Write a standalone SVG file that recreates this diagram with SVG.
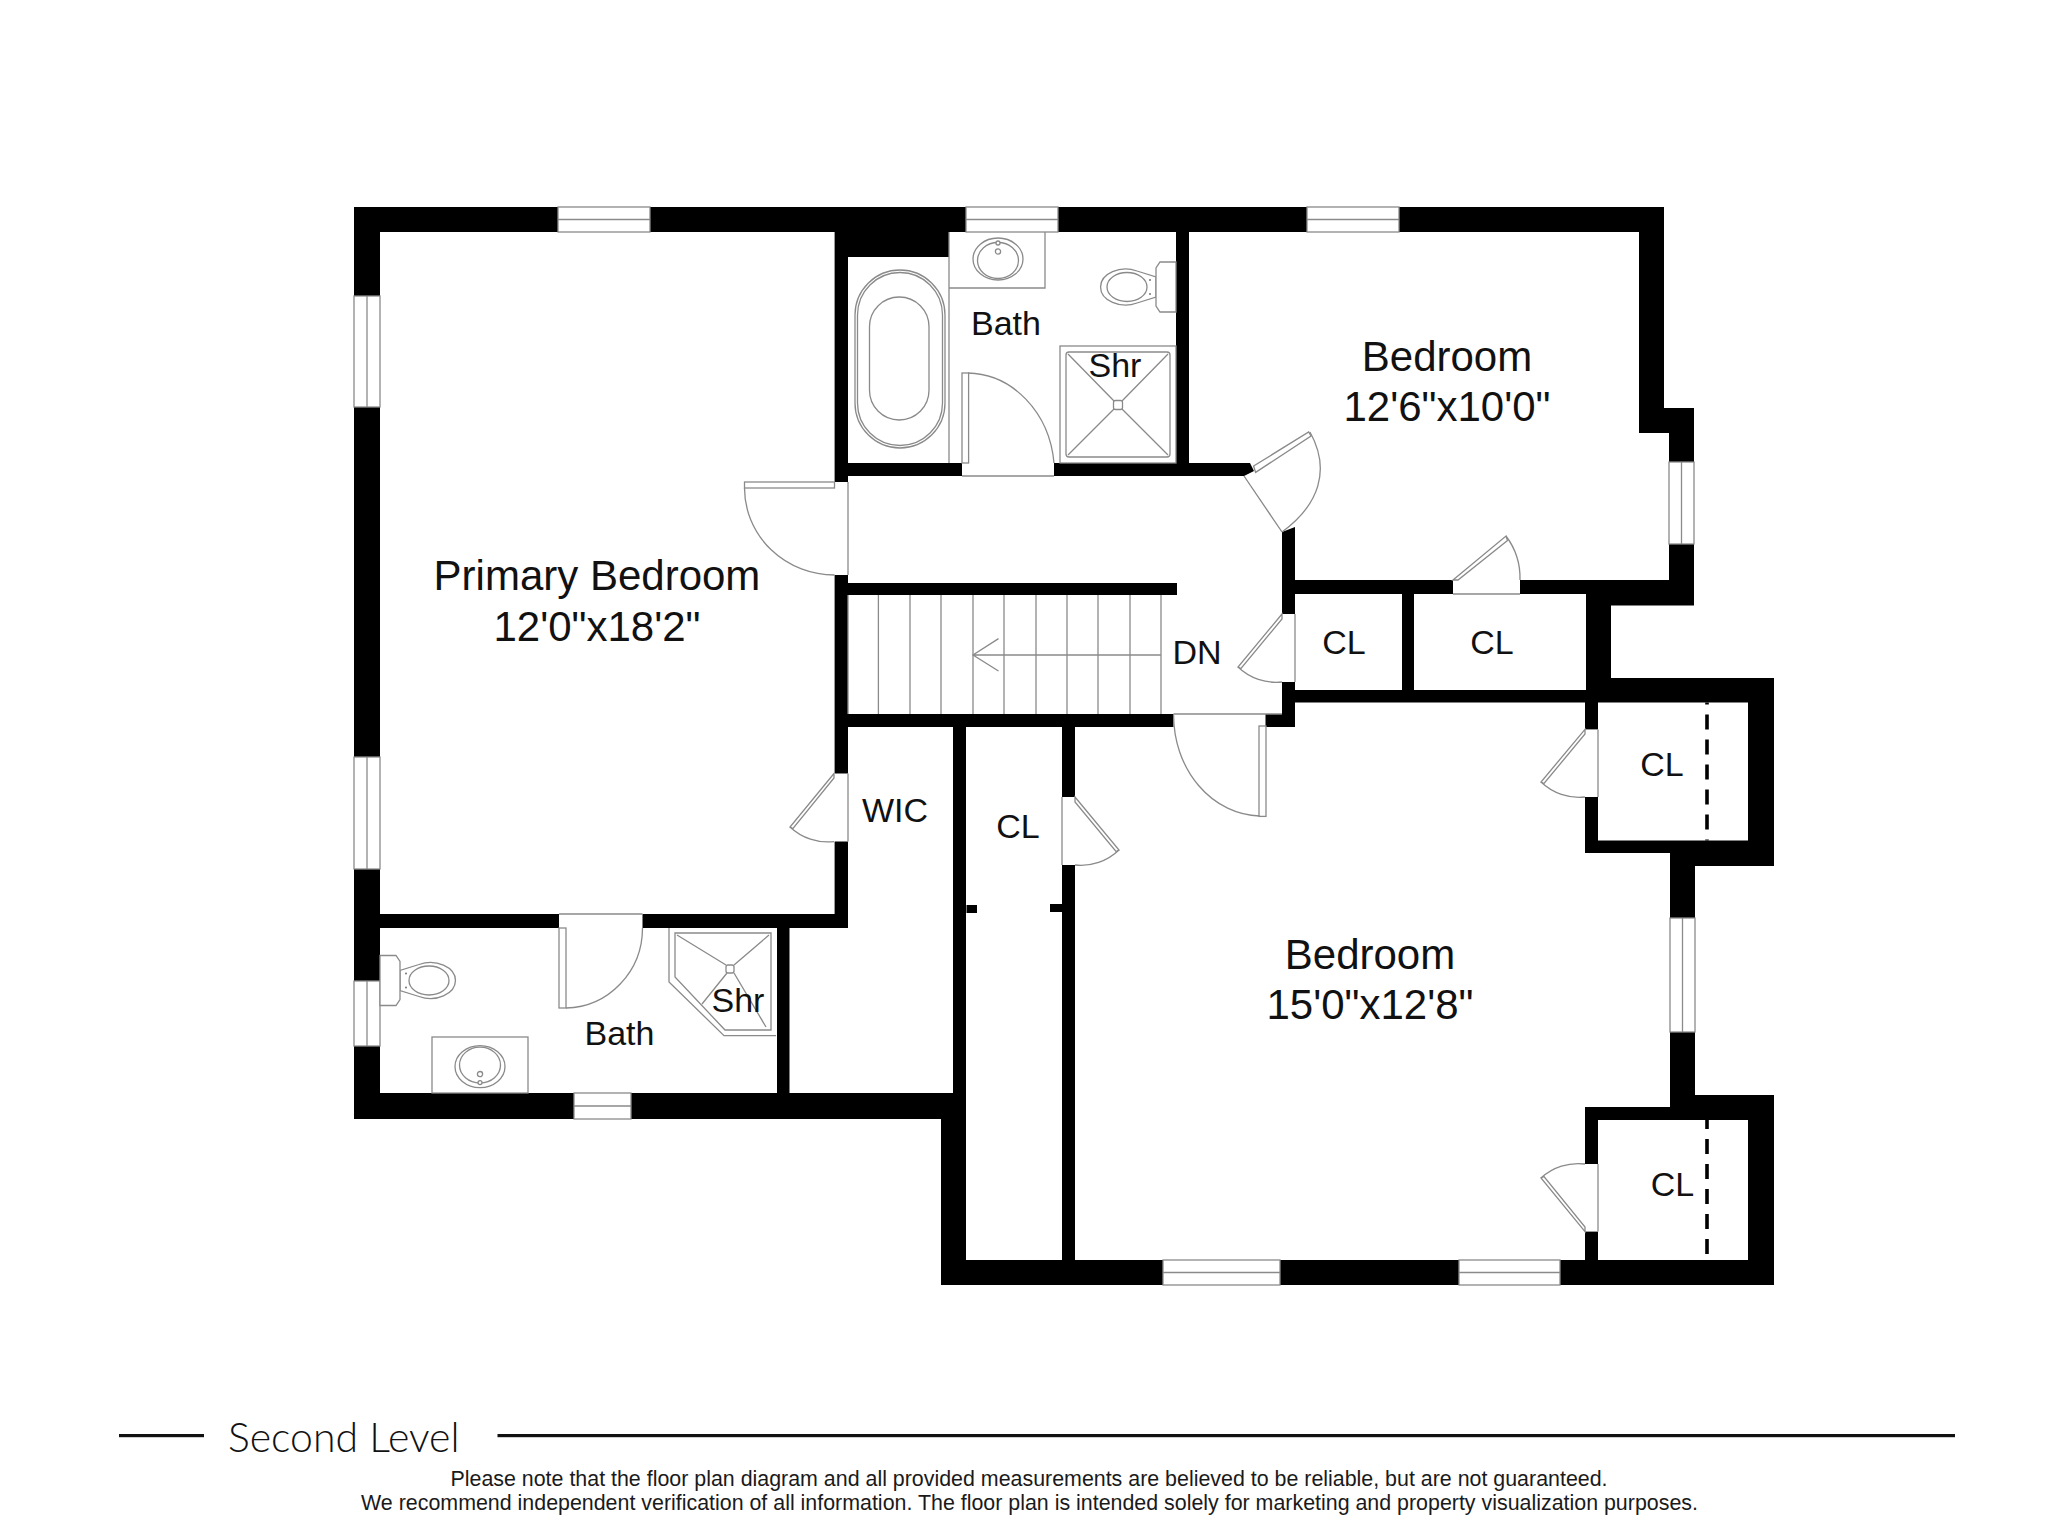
<svg xmlns="http://www.w3.org/2000/svg" width="2048" height="1536" viewBox="0 0 2048 1536">
<style>
.w{fill:#000}
.r{fill:#fff}
.l{fill:none;stroke:#8a8a8a;stroke-width:1.3}
.f{fill:#fff;stroke:#8a8a8a;stroke-width:1.3}
.d{fill:none;stroke:#000;stroke-width:3.6;stroke-dasharray:15 10}
.t{font-family:"Liberation Sans",Arial,sans-serif;fill:#111;text-anchor:middle}
.b{font-size:42px}
.s{font-size:34px}
.n{font-size:21.4px;fill:#1a1a1a}
</style>
<defs>
<g id="toilet">
<path class="f" d="M-39 -16 L-20 -10 V10 L-39 16 A25 18 0 1 1 -39 -16Z"/>
<ellipse class="f" cx="-49" cy="0" rx="20" ry="14.5"/>
<path class="f" d="M0 -25H-16L-20 -19V19L-16 25H0Z"/>
<circle cx="-26" cy="-7" r="0.9" fill="#666"/>
<circle cx="-26" cy="7" r="0.9" fill="#666"/>
</g>
<g id="sink">
<ellipse class="f" cx="0" cy="0" rx="25" ry="21"/>
<ellipse class="f" cx="0" cy="1.5" rx="20.5" ry="18"/>
<circle class="f" cx="0" cy="-16" r="2"/>
<circle class="f" cx="0" cy="-7.5" r="2.6"/>
</g>
</defs>
<rect width="2048" height="1536" fill="#fff"/>
<g id="walls">
<path class="w" d="M354 207H1664V408H1694V605.6H1611V678H1774V866H1695V1095H1774V1285H941V1119H354Z"/>
</g>
<g id="rooms">
<rect id="primary-bedroom" class="r" x="380" y="232" width="454.6" height="682"/>
<path id="upper-bath" class="r" d="M848 257H949V232H1176V463H848Z"/>
<path id="bedroom-north" class="r" d="M1189 232H1639V433H1669V580H1295V527L1282 532L1244 476L1254 471L1250 463H1189Z"/>
<path id="hall" class="r" d="M848 476H1244L1282 532V714H848Z"/>
<rect class="w" x="848" y="583" width="329" height="12"/>
<rect id="closet-a" class="r" x="1295" y="594" width="107" height="96"/>
<rect id="closet-b" class="r" x="1414" y="594" width="172" height="96"/>
<path id="bedroom-south" class="r" d="M1075 727H1295V702.5H1585V853H1670V1107H1585V1260H1075Z"/>
<rect class="r" x="1173.5" y="714" width="92" height="13"/>
<rect id="closet-c" class="r" x="1598" y="702.5" width="150" height="138"/>
<rect id="closet-d" class="r" x="1598" y="1120" width="150" height="140"/>
<rect id="long-closet" class="r" x="966" y="727" width="96" height="533"/>
<path id="wic" class="r" d="M848 727H953V1093H789.5V928H848Z"/>
<rect id="lower-bath" class="r" x="380" y="928" width="397" height="165"/>
<rect class="w" x="966.5" y="905" width="10.5" height="8"/>
<rect class="w" x="1050" y="904" width="12" height="8"/>
</g>
<g id="windows">
<g><rect class="f" x="558" y="207" width="92" height="25"/><path class="l" d="M558 219.5H650"/></g>
<g><rect class="f" x="966" y="207" width="92" height="25"/><path class="l" d="M966 219.5H1058"/></g>
<g><rect class="f" x="1307" y="207" width="92" height="25"/><path class="l" d="M1307 219.5H1399"/></g>
<g><rect class="f" x="354" y="296" width="26" height="111"/><path class="l" d="M367 296V407"/></g>
<g><rect class="f" x="354" y="757" width="26" height="112"/><path class="l" d="M367 757V869"/></g>
<g><rect class="f" x="354" y="981" width="26" height="65"/><path class="l" d="M367 981V1046"/></g>
<g><rect class="f" x="574" y="1093" width="57" height="26"/><path class="l" d="M574 1106H631"/></g>
<g><rect class="f" x="1669" y="462" width="25" height="82"/><path class="l" d="M1681.5 462V544"/></g>
<g><rect class="f" x="1670" y="918" width="25" height="114"/><path class="l" d="M1682.5 918V1032"/></g>
<g><rect class="f" x="1163" y="1260" width="117" height="25"/><path class="l" d="M1163 1272.5H1280"/></g>
<g><rect class="f" x="1459" y="1260" width="101" height="25"/><path class="l" d="M1459 1272.5H1560"/></g>
</g>
<g id="doors">
<g id="door-primary"><rect class="r" x="834" y="482" width="14" height="93"/><path class="l" d="M848 482V575"/><rect class="f" x="744.5" y="482" width="90" height="6"/><path class="l" d="M744.5 488A90 87 0 0 0 834.6 575"/></g>
<g id="door-bath-upper"><rect class="r" x="962" y="463" width="92" height="13"/><path class="l" d="M962 476H1054"/><rect class="f" x="962" y="373" width="6.6" height="90"/><path class="l" d="M968 373A88 100 0 0 1 1054 463"/></g>
<g id="door-bedroom-north"><path class="l" d="M1244 476L1282 532"/><path class="f" d="M1253.6 466L1308.7 432L1311 436L1255.6 472.4Z"/><path class="l" d="M1310 432C1331 470 1319 505 1282 532"/></g>
<g id="door-closet-b"><rect class="r" x="1453" y="580" width="67" height="14"/><path class="l" d="M1453 594H1520"/><path class="f" d="M1453 580L1506 536L1507.5 540.5L1458 580Z"/><path class="l" d="M1506 536A70 70 0 0 1 1520 580"/></g>
<g id="door-closet-a"><rect class="r" x="1282" y="614" width="13" height="68"/><path class="l" d="M1295 614V682"/><path class="f" d="M1282 614L1238 667L1241 668.5L1282 619Z"/><path class="l" d="M1238 667A55 55 0 0 0 1282 682"/></g>
<g id="door-bedroom-south"><path class="l" d="M1173.5 714H1282"/><rect class="f" x="1259" y="726" width="7" height="90.4"/><path class="l" d="M1173.6 715A88 101 0 0 0 1259.4 816"/></g>
<g id="door-closet-c"><rect class="r" x="1585" y="729.4" width="13" height="67.6"/><path class="l" d="M1598 729.4V797"/><path class="f" d="M1585 729.4L1541 782L1544 783.5L1585 734Z"/><path class="l" d="M1541 782A55 55 0 0 0 1585 797"/></g>
<g id="door-closet-d"><rect class="r" x="1585" y="1164" width="13" height="67.6"/><path class="l" d="M1598 1164V1231.6"/><path class="f" d="M1585 1231.6L1541 1178L1544 1176.5L1585 1227Z"/><path class="l" d="M1541 1178A55 55 0 0 1 1585 1164"/></g>
<g id="door-long-closet"><rect class="r" x="1062" y="797" width="13" height="68"/><path class="l" d="M1062 797V865"/><path class="f" d="M1075 797L1119 850L1116 851.5L1075 802Z"/><path class="l" d="M1119 850A55 55 0 0 1 1075 865"/></g>
<g id="door-wic"><rect class="r" x="834" y="773.5" width="14" height="68"/><path class="l" d="M848 773.5V841.6"/><path class="f" d="M834 773.5L790 827L793 828.5L834 778Z"/><path class="l" d="M790 827A55 55 0 0 0 834 841.6"/></g>
<g id="door-bath-lower"><rect class="r" x="559" y="914" width="83.5" height="14"/><path class="l" d="M559 914H642.5"/><rect class="f" x="559" y="928" width="7" height="80"/><path class="l" d="M566 1008A78 80 0 0 0 642.5 928"/></g>
</g>
<g id="fixtures">
<g id="stairs">
<path class="l" d="M848 595V714M878.4 595V714M910 595V714M941 595V714M973 595V714M1004 595V714M1036 595V714M1067 595V714M1098 595V714M1130 595V714M1161 595V714"/>
<path class="l" d="M1161 655H973M998.5 638.6L973 655L998.5 671"/>
</g>
<g id="tub">
<rect class="l" x="855" y="270" width="90" height="178" rx="45"/>
<rect class="l" x="857.5" y="272.5" width="85" height="173" rx="42.5"/>
<rect class="l" x="869.5" y="297" width="59.5" height="123" rx="29.7"/>
<path class="l" d="M949 232V463M949 288H1045V232"/>
</g>
<use href="#sink" x="998" y="259"/>
<use href="#toilet" transform="translate(1176 287)"/>
<g id="shower-upper">
<rect class="l" x="1060" y="346" width="116" height="117"/>
<rect class="l" x="1066" y="352" width="104" height="105" rx="3"/>
<path class="l" d="M1068 354L1114 401M1168 354L1122 401M1068 455L1114 409M1168 455L1122 409"/>
<rect class="l" x="1113.5" y="400.5" width="9" height="9" rx="2"/>
</g>
<g id="shower-lower">
<path class="l" d="M669 928V982L724 1035.6H776"/>
<path class="l" d="M675 933H771V1030H725L675 977Z"/>
<path class="l" d="M677 935L726 965M769 935L734 965M702 1004L727 973M766 1027L734 973"/>
<rect class="l" x="726" y="965" width="8" height="8" rx="2"/>
</g>
<use href="#toilet" transform="translate(380 980.5) scale(-1 1)"/>
<rect class="l" x="432" y="1037" width="96" height="56"/>
<use href="#sink" transform="translate(480 1066.6) scale(1 -1)"/>
<path class="d" d="M1707 702.5V840.5" stroke-dashoffset="13"/>
<path class="d" d="M1707 1120V1260" stroke-dashoffset="6"/>
</g>
<g id="labels">
<g id="label-primary"><text class="t b" x="597" y="590">Primary Bedroom</text><text class="t b" x="597" y="640.5">12'0"x18'2"</text></g>
<g id="label-north"><text class="t b" x="1447" y="371">Bedroom</text><text class="t b" x="1447" y="421">12'6"x10'0"</text></g>
<g id="label-south"><text class="t b" x="1370" y="968.5">Bedroom</text><text class="t b" x="1370" y="1019">15'0"x12'8"</text></g>
<text class="t s" x="1006" y="335">Bath</text>
<text class="t s" x="1115" y="377">Shr</text>
<text class="t s" x="1197" y="664">DN</text>
<text class="t s" x="1344" y="654">CL</text>
<text class="t s" x="1492" y="654">CL</text>
<text class="t s" x="1662" y="776">CL</text>
<text class="t s" x="1672.5" y="1196">CL</text>
<text class="t s" x="895" y="822">WIC</text>
<text class="t s" x="1018" y="838">CL</text>
<text class="t s" x="619.5" y="1045">Bath</text>
<text class="t s" x="738" y="1012">Shr</text>
</g>
<g id="footer">
<rect x="119" y="1434" width="85" height="3.2" fill="#111"/>
<rect x="497.5" y="1434" width="1457.5" height="3.2" fill="#111"/>
<text x="228" y="1452" font-family="Lato,'Liberation Sans',sans-serif" font-weight="300" font-size="41" fill="#111">Second Level</text>
<text class="t n" x="1029" y="1486">Please note that the floor plan diagram and all provided measurements are believed to be reliable, but are not guaranteed.</text>
<text class="t n" x="1029.5" y="1510">We recommend independent verification of all information. The floor plan is intended solely for marketing and property visualization purposes.</text>
</g>
</svg>
